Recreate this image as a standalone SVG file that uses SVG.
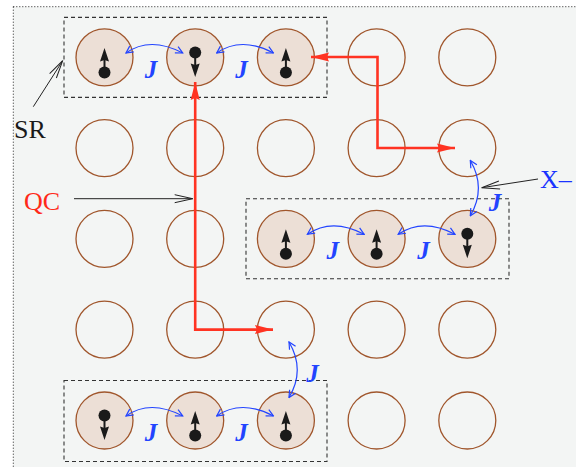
<svg xmlns="http://www.w3.org/2000/svg" xmlns:xlink="http://www.w3.org/1999/xlink" width="576" height="467" viewBox="0 0 576 467">
<style>
.site{fill:none;stroke:#a0562c;stroke-width:1.3}
.occ{fill:#ecdfd6;stroke:#a0562c;stroke-width:1.3}
.box{fill:none;stroke:#333;stroke-width:1.1;stroke-dasharray:4 3}
.qc{fill:none;stroke:#ff3322;stroke-width:2.6;stroke-linejoin:miter}
.j{fill:none;stroke:#2244ff;stroke-width:1.2}
.ann{fill:none;stroke:#222;stroke-width:1}
.jl{font-family:"Liberation Serif",serif;font-style:italic;font-weight:bold;font-size:25px;fill:#2244ff;text-anchor:middle}
.lbl{font-family:"Liberation Serif",serif;font-size:26px}
</style>
<defs>
<marker id="red" markerUnits="userSpaceOnUse" markerWidth="18" markerHeight="10" viewBox="0 0 18 10" refX="18" refY="5" orient="auto-start-reverse">
<path d="M0,0.5 L18,5 L0,9.5 L2,5 z" fill="#ff3322"/>
</marker>
<marker id="bl" markerUnits="userSpaceOnUse" markerWidth="9" markerHeight="9" viewBox="-1 -1 9 9" refX="7" refY="3.5" orient="auto-start-reverse">
<path d="M0,0 L7,3.5 L0,7" fill="none" stroke="#2244ff" stroke-width="1.2"/>
</marker>
<marker id="bk" markerUnits="userSpaceOnUse" markerWidth="20" markerHeight="10" viewBox="-1 -1 20 10" refX="18" refY="4" orient="auto">
<path d="M0,0 L18,4 L0,8" fill="none" stroke="#222" stroke-width="1"/>
</marker>
<g id="up">
<line x1="0" y1="15" x2="0" y2="2" stroke="#1a1a1a" stroke-width="2"/>
<path d="M0,-9.5 L4.5,4 L0,2.5 L-4.5,4 z" fill="#1a1a1a"/>
<circle cx="0" cy="15" r="6" fill="#1a1a1a"/>
</g>
<g id="down">
<line x1="0" y1="-5" x2="0" y2="8" stroke="#1a1a1a" stroke-width="2"/>
<path d="M0,19.5 L4.5,6 L0,7.5 L-4.5,6 z" fill="#1a1a1a"/>
<circle cx="0" cy="-5" r="6" fill="#1a1a1a"/>
</g>
</defs>

<rect x="13.3" y="6.7" width="600" height="500" fill="#f3f5f4" stroke="#222" stroke-width="1" stroke-dasharray="1 2"/>

<g id="boxes">
<rect class="box" x="64" y="17.4" width="263" height="80"/>
<rect class="box" x="246" y="198.8" width="263" height="80"/>
<rect class="box" x="64" y="380.5" width="263" height="81"/>
</g>

<g id="sites">
<g id="r1c1"><circle class="occ" cx="104.5" cy="57.4" r="28.5"/><use xlink:href="#up" transform="translate(104.5,57.4)"/></g>
<g id="r1c2"><circle class="occ" cx="195.2" cy="57.4" r="28.5"/><use xlink:href="#down" transform="translate(195.2,57.4)"/></g>
<g id="r1c3"><circle class="occ" cx="285.9" cy="57.4" r="28.5"/><use xlink:href="#up" transform="translate(285.9,57.4)"/></g>
<g id="r1c4"><circle class="site" cx="376.6" cy="57.4" r="28.5"/></g>
<g id="r1c5"><circle class="site" cx="467.3" cy="57.4" r="28.5"/></g>

<g id="r2c1"><circle class="site" cx="104.5" cy="148.1" r="28.5"/></g>
<g id="r2c2"><circle class="site" cx="195.2" cy="148.1" r="28.5"/></g>
<g id="r2c3"><circle class="site" cx="285.9" cy="148.1" r="28.5"/></g>
<g id="r2c4"><circle class="site" cx="376.6" cy="148.1" r="28.5"/></g>
<g id="r2c5"><circle class="site" cx="467.3" cy="148.1" r="28.5"/></g>

<g id="r3c1"><circle class="site" cx="104.5" cy="238.8" r="28.5"/></g>
<g id="r3c2"><circle class="site" cx="195.2" cy="238.8" r="28.5"/></g>
<g id="r3c3"><circle class="occ" cx="285.9" cy="238.8" r="28.5"/><use xlink:href="#up" transform="translate(285.9,238.8)"/></g>
<g id="r3c4"><circle class="occ" cx="376.6" cy="238.8" r="28.5"/><use xlink:href="#up" transform="translate(376.6,238.8)"/></g>
<g id="r3c5"><circle class="occ" cx="467.3" cy="238.8" r="28.5"/><use xlink:href="#down" transform="translate(467.3,238.8)"/></g>

<g id="r4c1"><circle class="site" cx="104.5" cy="329.6" r="28.5"/></g>
<g id="r4c2"><circle class="site" cx="195.2" cy="329.6" r="28.5"/></g>
<g id="r4c3"><circle class="site" cx="285.9" cy="329.6" r="28.5"/></g>
<g id="r4c4"><circle class="site" cx="376.6" cy="329.6" r="28.5"/></g>
<g id="r4c5"><circle class="site" cx="467.3" cy="329.6" r="28.5"/></g>

<g id="r5c1"><circle class="occ" cx="104.5" cy="420.5" r="28.5"/><use xlink:href="#down" transform="translate(104.5,420.5)"/></g>
<g id="r5c2"><circle class="occ" cx="195.2" cy="420.5" r="28.5"/><use xlink:href="#up" transform="translate(195.2,420.5)"/></g>
<g id="r5c3"><circle class="occ" cx="285.9" cy="420.5" r="28.5"/><use xlink:href="#up" transform="translate(285.9,420.5)"/></g>
<g id="r5c4"><circle class="site" cx="376.6" cy="420.5" r="28.5"/></g>
<g id="r5c5"><circle class="site" cx="467.3" cy="420.5" r="28.5"/></g>
</g>

<g id="connectors">
<path class="qc" d="M195.2,82 L195.2,329.6 L273,329.6" marker-start="url(#red)" marker-end="url(#red)"/>
<path class="qc" d="M311,57 L377.5,57 L377.5,148 L455,148" marker-start="url(#red)" marker-end="url(#red)"/>

<path class="j" d="M126,53 Q150,36 182.7,53" marker-start="url(#bl)" marker-end="url(#bl)"/>
<path class="j" d="M216.7,53 Q241,36 273.4,53" marker-start="url(#bl)" marker-end="url(#bl)"/>
<path class="j" d="M307.4,234.3 Q332,217.3 364.2,234.3" marker-start="url(#bl)" marker-end="url(#bl)"/>
<path class="j" d="M398.2,234.3 Q423,217.3 455,234.3" marker-start="url(#bl)" marker-end="url(#bl)"/>
<path class="j" d="M126,416 Q150,399 182.7,416" marker-start="url(#bl)" marker-end="url(#bl)"/>
<path class="j" d="M216.7,416 Q241,399 273.4,416" marker-start="url(#bl)" marker-end="url(#bl)"/>
<path class="j" d="M470.3,160.5 Q486.5,188 470.3,215.8" marker-start="url(#bl)" marker-end="url(#bl)"/>
<path class="j" d="M289,342 Q305.5,370 289,397.5" marker-start="url(#bl)" marker-end="url(#bl)"/>

<line class="ann" x1="33.3" y1="106.7" x2="62.7" y2="60.7" marker-end="url(#bk)"/>
<line class="ann" x1="74" y1="198.7" x2="192.7" y2="198.7" marker-end="url(#bk)"/>
<line class="ann" x1="538" y1="179" x2="481.7" y2="187.7" marker-end="url(#bk)"/>
</g>

<g id="labels">
<text class="jl" x="151" y="78">J</text>
<text class="jl" x="241.5" y="78">J</text>
<text class="jl" x="332.7" y="259">J</text>
<text class="jl" x="423.5" y="259">J</text>
<text class="jl" x="151" y="441">J</text>
<text class="jl" x="241.5" y="441">J</text>
<text class="jl" x="495" y="210.5">J</text>
<text class="jl" x="312.5" y="381.5">J</text>
<text class="lbl" x="14" y="138.3" fill="#1a1a1a">SR</text>
<text class="lbl" x="24" y="210" fill="#ff2a1a">QC</text>
<text class="lbl" x="540" y="188.3" fill="#1a33ff">X–</text>
</g>
</svg>
